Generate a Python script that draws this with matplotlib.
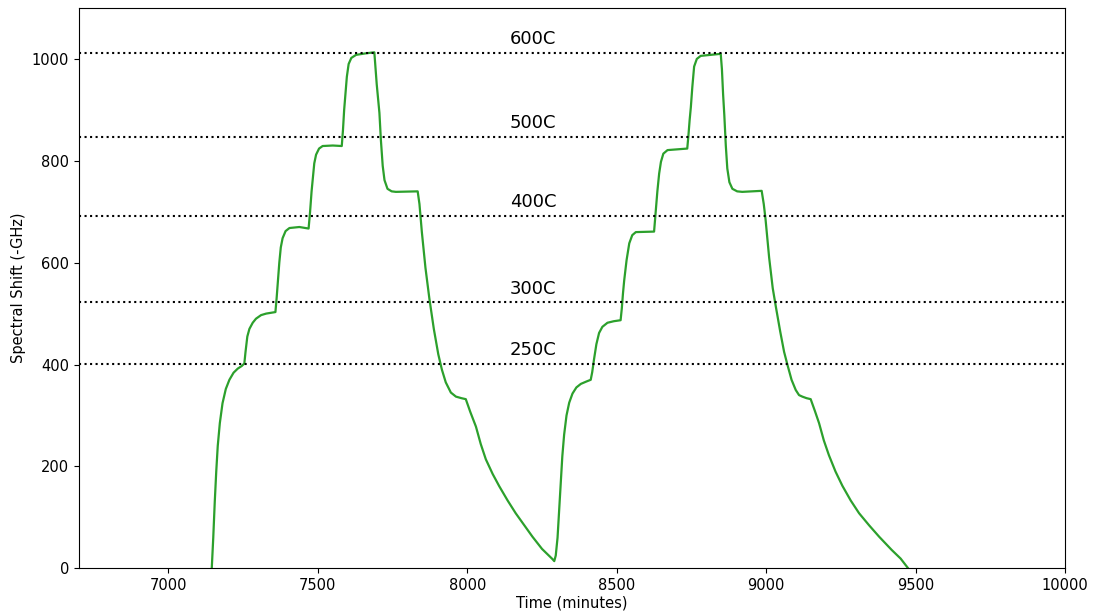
import matplotlib.pyplot as plt

# temperature reference levels (spectral shift, -GHz)
LEVELS = [402, 522, 692, 847, 1012]
LEVEL_LABELS = ["250C", "300C", "400C", "500C", "600C"]

# two heating / cooling cycles, time in minutes
time_min = [
    # cycle 1, heating steps
    7145, 7150, 7155, 7160, 7165, 7172, 7181, 7192, 7204, 7218, 7232, 7245, 7254,
    7258, 7264, 7271, 7282, 7293, 7310, 7327, 7358,
    7362, 7367, 7371, 7376, 7382, 7392, 7405, 7438, 7469,
    7474, 7479, 7483, 7488, 7494, 7504, 7516, 7550, 7580,
    7584, 7588, 7592, 7597, 7603, 7612, 7628, 7661, 7689,
    # cycle 1, cooling
    7692, 7697, 7702, 7706, 7711, 7717, 7723, 7733, 7747, 7761, 7834,
    7840, 7848, 7860, 7873, 7888, 7903, 7915, 7928, 7945, 7962, 7980, 7995,
    8010, 8029, 8045, 8062, 8085, 8107, 8135, 8162, 8190, 8218, 8250, 8285, 8291,
    # cycle 2, heating steps
    8296, 8302, 8308, 8313, 8318, 8324, 8332, 8341, 8352, 8365, 8380, 8400, 8413,
    8418, 8424, 8432, 8441, 8452, 8469, 8490, 8513,
    8517, 8521, 8525, 8533, 8542, 8552, 8564, 8625,
    8629, 8633, 8636, 8642, 8648, 8656, 8670, 8736,
    8740, 8744, 8748, 8753, 8759, 8768, 8781, 8848,
    # cycle 2, cooling
    8852, 8856, 8860, 8865, 8870, 8877, 8887, 8903, 8920, 8985,
    8992, 8998, 9010, 9022, 9032, 9047, 9060, 9071, 9085, 9099, 9110, 9121, 9135, 9149,
    9163, 9177, 9193, 9210, 9232, 9255, 9283, 9311, 9345, 9378, 9420, 9450, 9475,
]
shift_ghz = [
    0, 60, 130, 190, 240, 285, 324, 352, 370, 384, 392, 397, 402,
    425, 455, 470, 482, 490, 497, 500, 503,
    530, 570, 600, 630, 648, 662, 668, 670, 667,
    700, 740, 765, 795, 812, 824, 829, 830, 829,
    860, 900, 930, 965, 990, 1002, 1008, 1011, 1013,
    990, 950, 920, 894, 840, 790, 762, 745, 740, 739, 740,
    715, 660, 590, 530, 470, 420, 390, 365, 345, 337, 334, 332,
    307, 278, 244, 214, 185, 161, 133, 108, 85, 62, 38, 18, 14,
    25, 60, 120, 170, 220, 262, 300, 325, 343, 355, 362, 367, 370,
    385, 410, 440, 462, 474, 482, 485, 487,
    510, 540, 565, 605, 638, 654, 660, 661,
    690, 720, 740, 775, 798, 814, 821, 824,
    850, 880, 905, 945, 985, 1000, 1006, 1010,
    980, 930, 890, 830, 785, 758, 745, 740, 739, 741,
    715, 685, 610, 550, 515, 465, 425, 400, 370, 350, 340, 337, 334, 332,
    309, 285, 251, 222, 190, 162, 133, 108, 84, 62, 36, 19, 0,
]

fig, ax = plt.subplots(figsize=(10.94, 6.15), dpi=100)
fig.subplots_adjust(left=0.072, right=0.9735, bottom=0.076, top=0.987)

ax.plot(time_min, shift_ghz, color='tab:green', linewidth=1.6)

for level, label in zip(LEVELS, LEVEL_LABELS):
    ax.axhline(level, color='black', linestyle=':', linewidth=1.5)
    ax.text(8220, level + 17, label, ha='center', va='baseline', fontsize=13)

ax.set_xlim(6700, 10000)
ax.set_ylim(0, 1100)
ax.tick_params(labelsize=10.5)
ax.set_xlabel("Time (minutes)", fontsize=10.5, labelpad=2)
ax.set_ylabel("Spectral Shift (-GHz)", fontsize=10.5)

fig.savefig('out.png', dpi=100)
